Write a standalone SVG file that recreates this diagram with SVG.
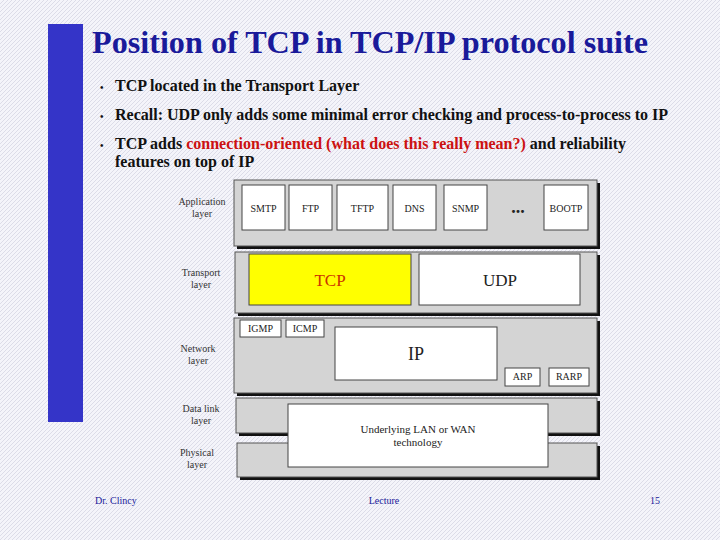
<svg xmlns="http://www.w3.org/2000/svg" width="720" height="540" viewBox="0 0 720 540">
<defs>
<pattern id="h" width="4" height="4" patternUnits="userSpaceOnUse"><rect width="4" height="4" fill="#f4f4fa"/><path d="M0 4L4 0" stroke="#dcdce8" stroke-width="1"/></pattern>
<style>
text{font-family:"Liberation Serif",serif}
.lay{fill:#d4d4d4;stroke:#555;stroke-width:1}
.sh{fill:#111}
.b{fill:#fff;stroke:#444;stroke-width:1}
.s{font-size:10px;fill:#222;text-anchor:middle}
.l{font-size:10px;fill:#333;text-anchor:middle}
.bul{font-size:16px;font-weight:bold;fill:#111}
</style>
</defs>
<rect width="720" height="540" fill="url(#h)"/>
<rect x="48" y="24" width="35" height="398" fill="#3434c8"/>
<text x="92" y="53" font-size="31" font-weight="bold" fill="#1a1a9a" textLength="556" lengthAdjust="spacingAndGlyphs">Position of TCP in TCP/IP protocol suite</text>
<g class="bul">
<text x="100" y="91" font-size="10">•</text><text x="115" y="91">TCP located in the Transport Layer</text>
<text x="100" y="120" font-size="10">•</text><text x="115" y="120">Recall: UDP only adds some minimal error checking and process-to-process to IP</text>
<text x="100" y="149" font-size="10">•</text><text x="115" y="149">TCP adds <tspan fill="#cc1111">connection-oriented (what does this really mean?)</tspan> and reliability</text>
<text x="115" y="167">features on top of IP</text>
</g>
<g id="app">
<rect class="sh" x="237" y="183" width="363" height="66"/><rect class="lay" x="234" y="180" width="363" height="66"/>
<rect class="b" x="242" y="185" width="43" height="45"/><text class="s" x="263.5" y="212">SMTP</text>
<rect class="b" x="289" y="185" width="43" height="45"/><text class="s" x="310.5" y="212">FTP</text>
<rect class="b" x="337" y="185" width="51" height="45"/><text class="s" x="362.5" y="212">TFTP</text>
<rect class="b" x="393" y="185" width="43" height="45"/><text class="s" x="414.5" y="212">DNS</text>
<rect class="b" x="444" y="185" width="43" height="45"/><text class="s" x="465.5" y="212">SNMP</text>
<text x="518" y="213" font-size="18" font-weight="bold" text-anchor="middle" fill="#222">...</text>
<rect class="b" x="544" y="185" width="44" height="45"/><text class="s" x="566" y="212">BOOTP</text>
</g>
<g id="transport">
<rect class="sh" x="238" y="255" width="362" height="61"/><rect class="lay" x="235" y="252" width="362" height="61"/>
<rect x="249" y="254" width="162" height="51" fill="#ffff00" stroke="#444"/><text x="330" y="286" font-size="17" text-anchor="middle" fill="#cc3300">TCP</text>
<rect class="b" x="419" y="254" width="161" height="51"/><text x="500" y="286" font-size="17" text-anchor="middle" fill="#222">UDP</text>
</g>
<g id="network">
<rect class="sh" x="237" y="321" width="363" height="75"/><rect class="lay" x="234" y="318" width="363" height="75"/>
<rect class="b" x="240" y="320" width="41" height="17"/><text class="s" x="260.5" y="332">IGMP</text>
<rect class="b" x="286" y="320" width="38" height="17"/><text class="s" x="305" y="332">ICMP</text>
<rect class="b" x="335" y="327" width="162" height="53"/><text x="416" y="360" font-size="18" text-anchor="middle" fill="#222">IP</text>
<rect class="b" x="505" y="368" width="35" height="18"/><text class="s" x="522.5" y="380">ARP</text>
<rect class="b" x="549" y="368" width="40" height="18"/><text class="s" x="569" y="380">RARP</text>
</g>
<g id="datalink"><rect class="sh" x="239" y="401" width="361" height="35"/><rect class="lay" x="236" y="398" width="361" height="35"/></g>
<g id="physical"><rect class="sh" x="240" y="446" width="360" height="34"/><rect class="lay" x="237" y="443" width="360" height="34"/></g>
<g id="lan"><rect class="b" x="288" y="404" width="260" height="63"/>
<text x="418" y="433" font-size="11" text-anchor="middle" fill="#222">Underlying LAN or WAN</text><text x="418" y="446" font-size="11" text-anchor="middle" fill="#222">technology</text></g>
<g id="labels">
<text class="l" x="202" y="205">Application</text><text class="l" x="202" y="217">layer</text>
<text class="l" x="201" y="276">Transport</text><text class="l" x="201" y="288">layer</text>
<text class="l" x="198" y="352">Network</text><text class="l" x="198" y="364">layer</text>
<text class="l" x="201" y="412">Data link</text><text class="l" x="201" y="424">layer</text>
<text class="l" x="197" y="456">Physical</text><text class="l" x="197" y="468">layer</text>
</g>
<g font-size="10" fill="#1a1a9a">
<text x="95" y="504">Dr. Clincy</text>
<text x="384" y="504" text-anchor="middle">Lecture</text>
<text x="660" y="504" text-anchor="end">15</text>
</g>
</svg>
